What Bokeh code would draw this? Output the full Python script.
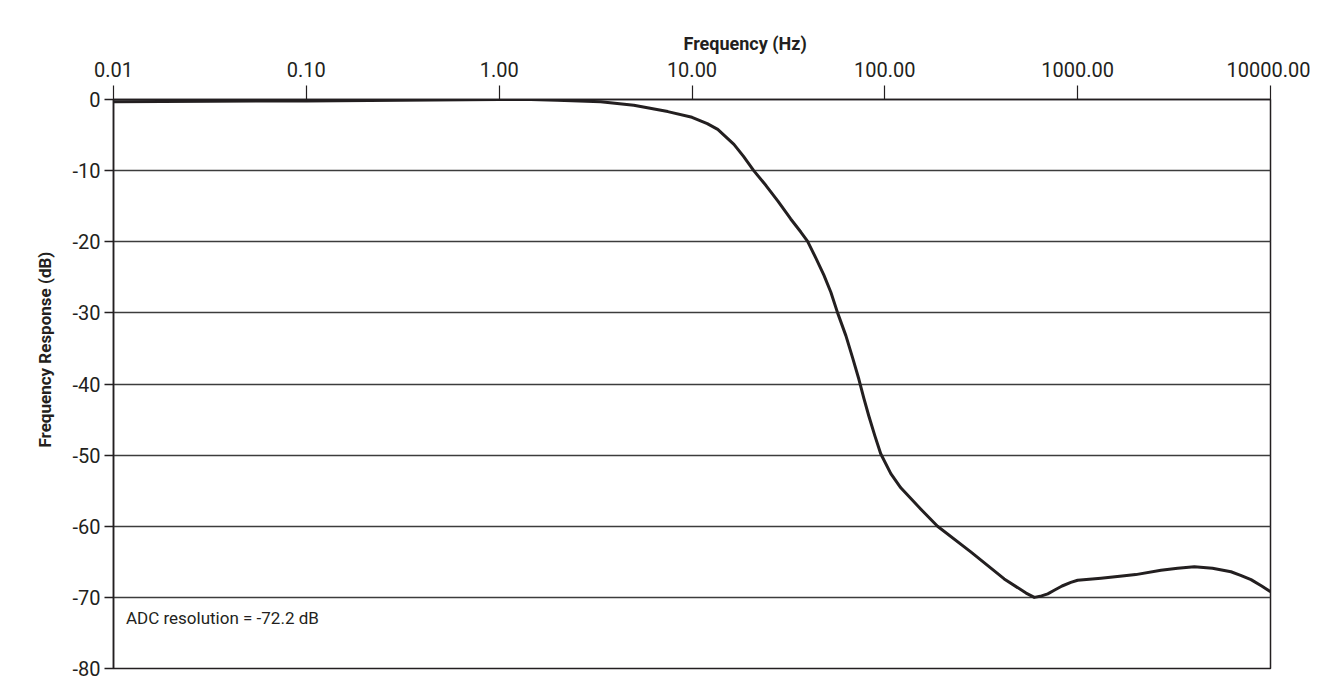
from bokeh.plotting import figure
from bokeh.models import FixedTicker, PrintfTickFormatter, Label, Range1d, Title, LogAxis
from bokeh.embed import file_html
from bokeh.resources import INLINE

# ---- data ----
freq_hz = [0.01, 0.032, 0.1, 0.308, 1.0, 1.46, 2.0, 3.36, 4.99, 7.49, 10.0, 12.0, 13.6, 16.5,
           18.5, 20.9, 24.2, 27.9, 32.5, 36.6, 39.7, 43.9, 48.3, 52.5, 56.9, 62.8, 68.2,
           73.3, 77.8, 82.6, 88.8, 95.2, 107.4, 121.0, 153.8, 187.6, 279.0, 416.0, 540.0,
           596.0, 650.0, 700.0, 756.0, 830.0, 922.0, 1000.0, 1321.0, 1700.0, 2000.0, 2704.0,
           3300.0, 4027.0, 5000.0, 6237.0, 7000.0, 7925.0, 9000.0, 10000.0]
response_db = [-0.3, -0.25, -0.2, -0.1, 0.0, 0.0, -0.1, -0.3, -0.8, -1.7, -2.5, -3.4, -4.2, -6.3,
               -8.0, -10.0, -12.1, -14.3, -16.8, -18.6, -19.9, -22.3, -24.7, -27.1, -30.0, -33.2, -36.4,
               -39.3, -42.0, -44.5, -47.3, -49.8, -52.6, -54.6, -57.6, -60.0, -63.6, -67.4, -69.4,
               -70.0, -69.8, -69.5, -69.0, -68.4, -67.9, -67.6, -67.3, -67.0, -66.8, -66.2,
               -65.9, -65.7, -65.9, -66.4, -66.9, -67.5, -68.4, -69.2]
x_ticks = [0.01, 0.1, 1, 10, 100, 1000, 10000]
y_ticks = [0, -10, -20, -30, -40, -50, -60, -70, -80]
x_title = "Frequency (Hz)"
y_title = "Frequency Response (dB)"
note = "ADC resolution = -72.2 dB"

FONT = "Roboto"
INK = "#231f20"

p = figure(width=1310, height=682, x_axis_type="log", x_axis_location="above",
           x_range=Range1d(0.01, 10000), y_range=Range1d(-80, 0), title=None,
           output_backend="svg", toolbar_location=None,
           min_border_left=113, min_border_top=99, min_border_right=40, min_border_bottom=14)
p.background_fill_color = "white"
p.border_fill_color = "white"
p.outline_line_color = INK
p.outline_line_width = 1.5

# x axis (top)
xa = p.xaxis[0]
xa.ticker = FixedTicker(ticks=x_ticks, minor_ticks=[])
xa.formatter = PrintfTickFormatter(format="%.2f")
xa.major_tick_out = 14
xa.major_tick_in = 0
xa.minor_tick_out = 0
xa.minor_tick_in = 0
xa.major_tick_line_color = INK
xa.major_tick_line_width = 1.2
xa.axis_line_color = INK
xa.axis_line_width = 1.5
xa.major_label_text_font = FONT
xa.major_label_text_font_size = "20px"
xa.major_label_text_color = INK
xa.major_label_standoff = 9

# invisible bare axis used only as vertical spacing between tick labels and caption
spacer = LogAxis(ticker=FixedTicker(ticks=[], minor_ticks=[]), axis_line_color=None,
                 major_tick_out=21, major_tick_in=0, minor_tick_out=0, minor_tick_in=0,
                 major_tick_line_color=None, minor_tick_line_color=None,
                 major_label_standoff=0)
p.add_layout(spacer, "above")

# caption of the x axis, outermost above, shifted right of centre
xt = Title(text=x_title, align="left", offset=570, standoff=10, text_font=FONT,
           text_font_style="bold", text_font_size="18px", text_color=INK)
p.add_layout(xt, "above")

# y axis
ya = p.yaxis[0]
ya.ticker = FixedTicker(ticks=y_ticks, minor_ticks=[])
ya.formatter = PrintfTickFormatter(format="%d")
ya.major_tick_out = 9
ya.major_tick_in = 0
ya.minor_tick_out = 0
ya.minor_tick_in = 0
ya.major_tick_line_color = INK
ya.major_tick_line_width = 1.5
ya.axis_line_color = INK
ya.axis_line_width = 1.5
ya.major_label_text_font = FONT
ya.major_label_text_font_size = "20px"
ya.major_label_text_color = INK
ya.major_label_standoff = 4

# y caption as a left-side title
yt = Title(text=y_title, align="left", offset=221, standoff=30, text_font=FONT,
           text_font_style="bold", text_font_size="17px", text_color=INK)
p.add_layout(yt, "left")

p.xgrid.grid_line_color = None
p.ygrid.ticker = FixedTicker(ticks=y_ticks)
p.ygrid.grid_line_color = "#3c3c3c"
p.ygrid.grid_line_width = 1.5

p.line(freq_hz, response_db, line_color=INK, line_width=3, line_join="round")

p.add_layout(Label(x=0.0116, y=-72.9, text=note, text_font=FONT, text_font_size="17px",
                   text_color=INK, text_align="left", text_baseline="middle"))

open("out.html", "w").write(file_html(p, INLINE))
